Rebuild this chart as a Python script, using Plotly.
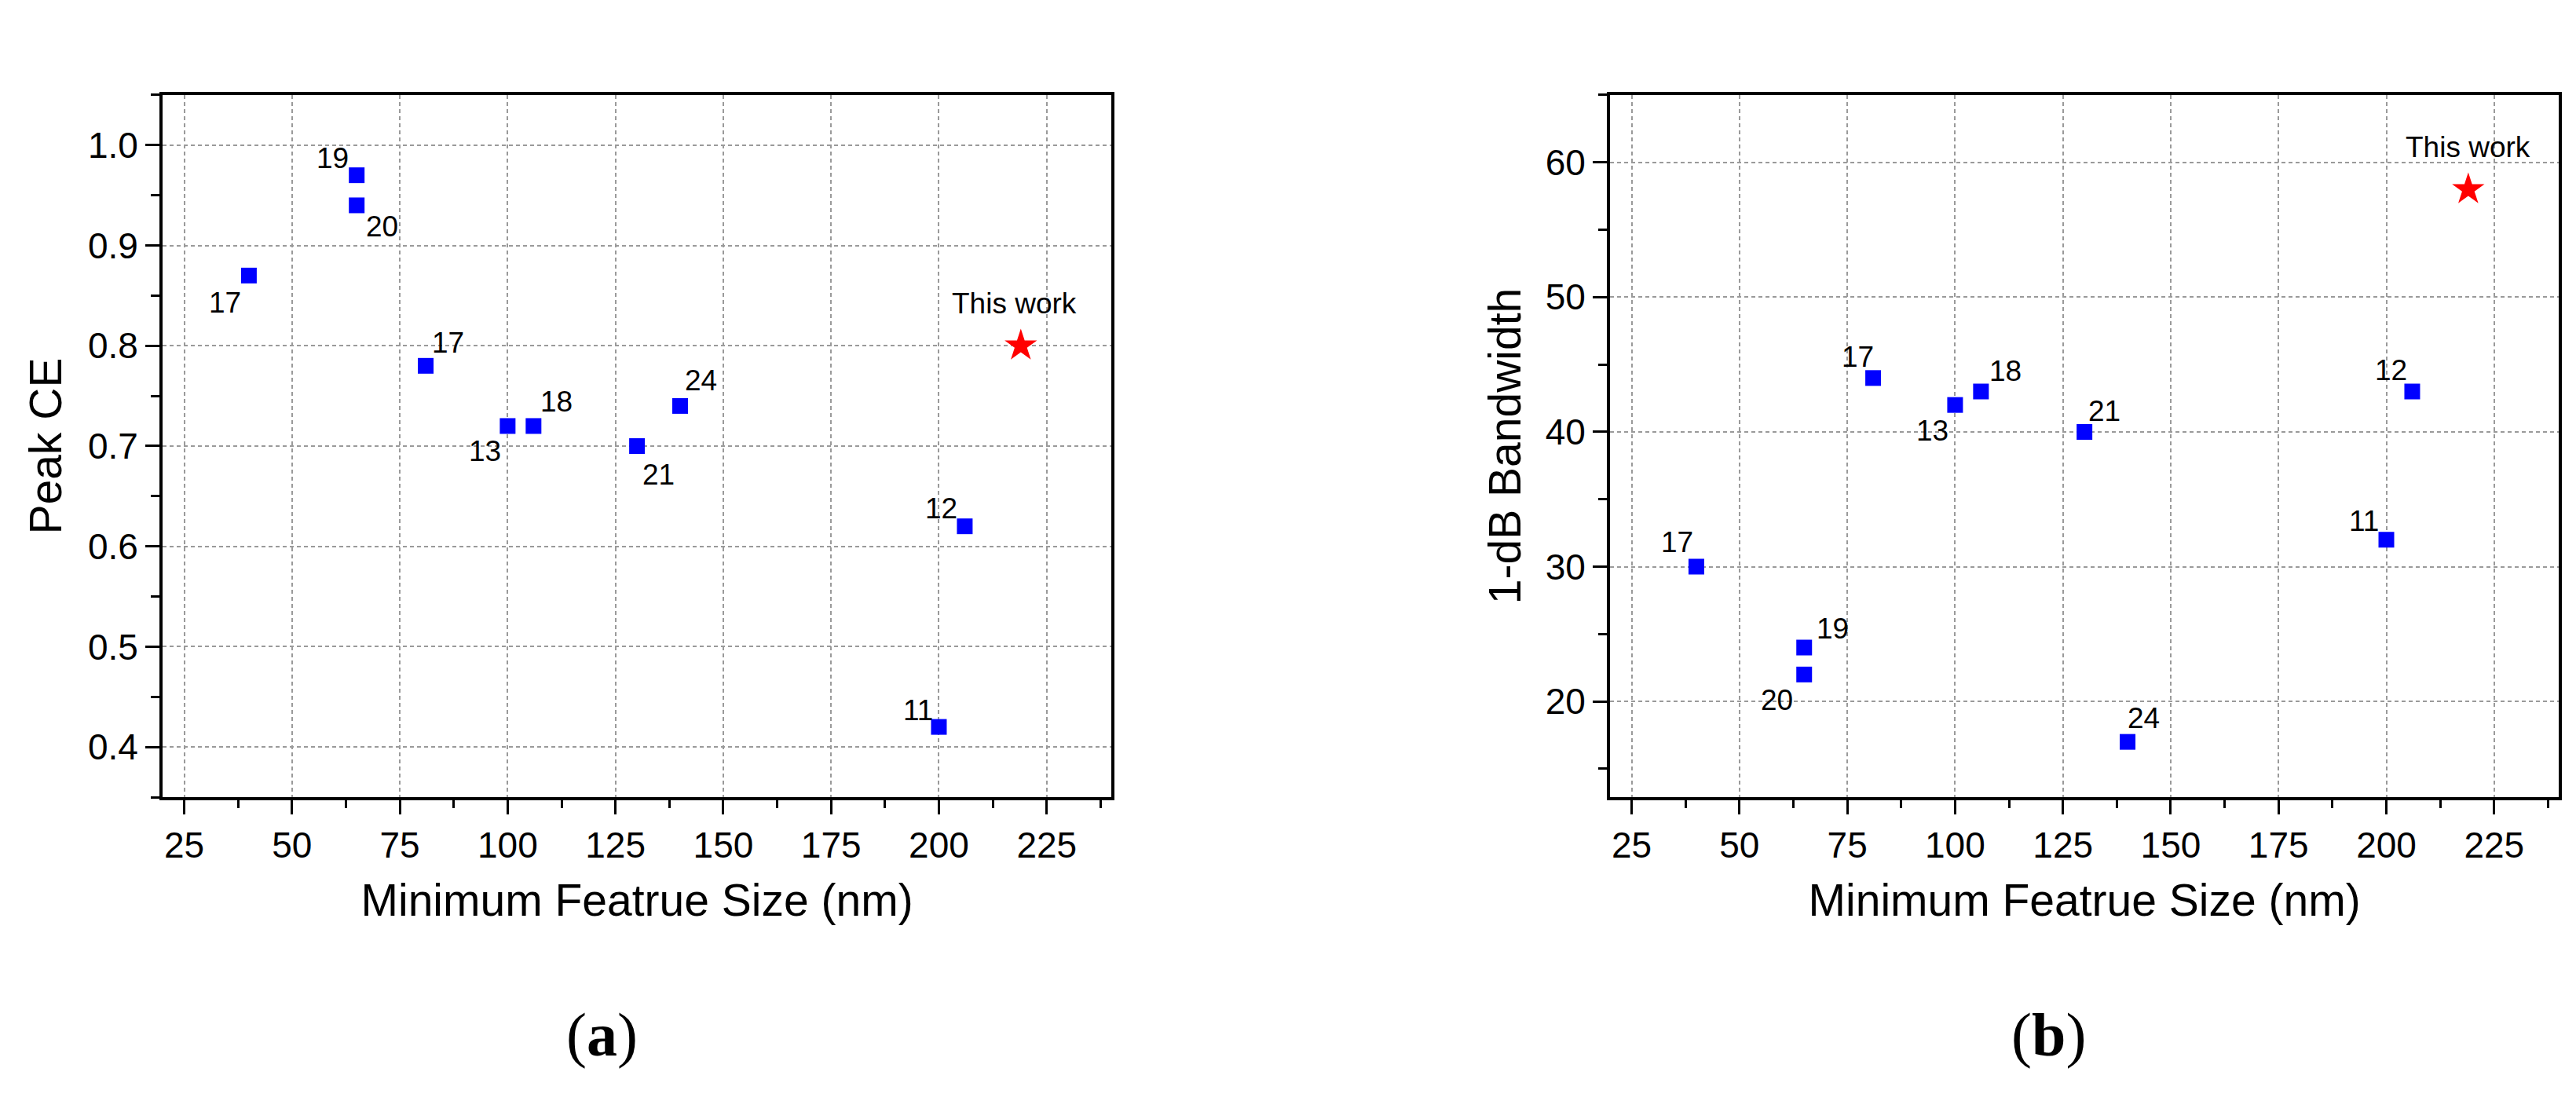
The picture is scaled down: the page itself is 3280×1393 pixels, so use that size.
import plotly.graph_objects as go

# reference data
feature_size = [40, 65, 65, 81, 100, 106, 130, 140, 206, 200]
ref_labels = ["17", "19", "20", "17", "13", "18", "21", "24", "12", "11"]
peak_ce = [0.87, 0.97, 0.94, 0.78, 0.72, 0.72, 0.70, 0.74, 0.62, 0.42]
bandwidth = [30, 24, 22, 44, 42, 43, 40, 17, 43, 32]

this_work_size = [219]
this_work_ce = [0.80]
this_work_bw = [58]
this_work_label = "This work"

x_ticks = [25, 50, 75, 100, 125, 150, 175, 200, 225]
ce_ticks = [0.4, 0.5, 0.6, 0.7, 0.8, 0.9, 1.0]
bw_ticks = [20, 30, 40, 50, 60]

# label offsets in px (dx, dy with dy up)
offs_a = [(-30, -35), (-31, 22), (32, -27), (28, 29), (-29, -32),
          (29, 31), (27, -37), (26, 32), (-30, 23), (-26, 21)]
offs_b = [(-24, 31), (36, 24), (-35, -33), (-20, 27), (-29, -33),
          (31, 26), (25, 26), (20, 30), (-27, 27), (-29, 24)]

FONT = "Liberation Sans, Arial, sans-serif"

fig = go.Figure()

for i, (yvals, tw, xa, ya) in enumerate([(peak_ce, this_work_ce, "x", "y"),
                                         (bandwidth, this_work_bw, "x2", "y2")]):
    fig.add_trace(go.Scatter(x=feature_size, y=yvals, mode="markers",
                             marker=dict(symbol="square", size=20, color="#0000ff",
                                         line=dict(width=0)),
                             xaxis=xa, yaxis=ya, showlegend=False))
    fig.add_trace(go.Scatter(x=this_work_size, y=tw, mode="markers",
                             marker=dict(symbol="star", size=31, color="#ff0000",
                                         line=dict(width=0)),
                             xaxis=xa, yaxis=ya, showlegend=False))
    offs = offs_a if i == 0 else offs_b
    for xv, yv, lab, (dx, dy) in zip(feature_size, yvals, ref_labels, offs):
        fig.add_annotation(x=xv, y=yv, xref=xa, yref=ya, text=lab, showarrow=False,
                           xshift=dx, yshift=dy, font=dict(family=FONT, size=37, color="black"))
    fig.add_annotation(x=this_work_size[0], y=tw[0], xref=xa, yref=ya, text=this_work_label,
                       showarrow=False, xshift=-8 if i == 0 else 0, yshift=54,
                       font=dict(family=FONT, size=37, color="black"))

axis_common = dict(
    showline=True, mirror=True, linewidth=4, linecolor="black",
    ticks="outside", ticklen=18, tickwidth=3, tickcolor="black",
    tickfont=dict(family=FONT, size=46, color="black"),
    showgrid=True, gridcolor="#9a9a9a", gridwidth=2, griddash="5px,4px",
    zeroline=False,
)

fig.update_layout(
    width=3280, height=1393,
    margin=dict(l=0, r=0, t=0, b=0),
    plot_bgcolor="white", paper_bgcolor="white",
    xaxis=dict(domain=[0.0607, 0.4290], range=[20, 240], tickvals=x_ticks,
               minor=dict(dtick=12.5, tick0=0, ticks="outside", ticklen=10, tickwidth=3,
                          tickcolor="black", showgrid=False),
               title=dict(text="Minimum Featrue Size (nm)", standoff=26,
                          font=dict(family=FONT, size=57, color="black")),
               anchor="y", **axis_common),
    yaxis=dict(domain=[0.2771, 0.9189], range=[0.35, 1.05], tickvals=ce_ticks,
               tickformat=".1f",
               minor=dict(dtick=0.05, tick0=0, ticks="outside", ticklen=11, tickwidth=3,
                          tickcolor="black", showgrid=False),
               title=dict(text="Peak CE", standoff=16,
                          font=dict(family=FONT, size=57, color="black")),
               anchor="x", **axis_common),
    xaxis2=dict(domain=[0.6226, 0.9909], range=[20, 240], tickvals=x_ticks,
                minor=dict(dtick=12.5, tick0=0, ticks="outside", ticklen=10, tickwidth=3,
                           tickcolor="black", showgrid=False),
                title=dict(text="Minimum Featrue Size (nm)", standoff=26,
                           font=dict(family=FONT, size=57, color="black")),
                anchor="y2", **axis_common),
    yaxis2=dict(domain=[0.2771, 0.9189], range=[12.9, 65], tickvals=bw_ticks,
                minor=dict(dtick=5, tick0=0, ticks="outside", ticklen=11, tickwidth=3,
                           tickcolor="black", showgrid=False),
                title=dict(text="1-dB Bandwidth", standoff=14,
                           font=dict(family=FONT, size=57, color="black")),
                anchor="x2", **axis_common),
)

for txt, xp in [("(<b>a</b>)", 0.2314), ("(<b>b</b>)", 0.7927)]:
    fig.add_annotation(x=xp, y=0.0596, xref="paper", yref="paper", text=txt, showarrow=False,
                       xanchor="center", yanchor="middle",
                       font=dict(family="Liberation Serif, Times New Roman, serif", size=78,
                                 color="black"))

fig.write_html("out.html")
